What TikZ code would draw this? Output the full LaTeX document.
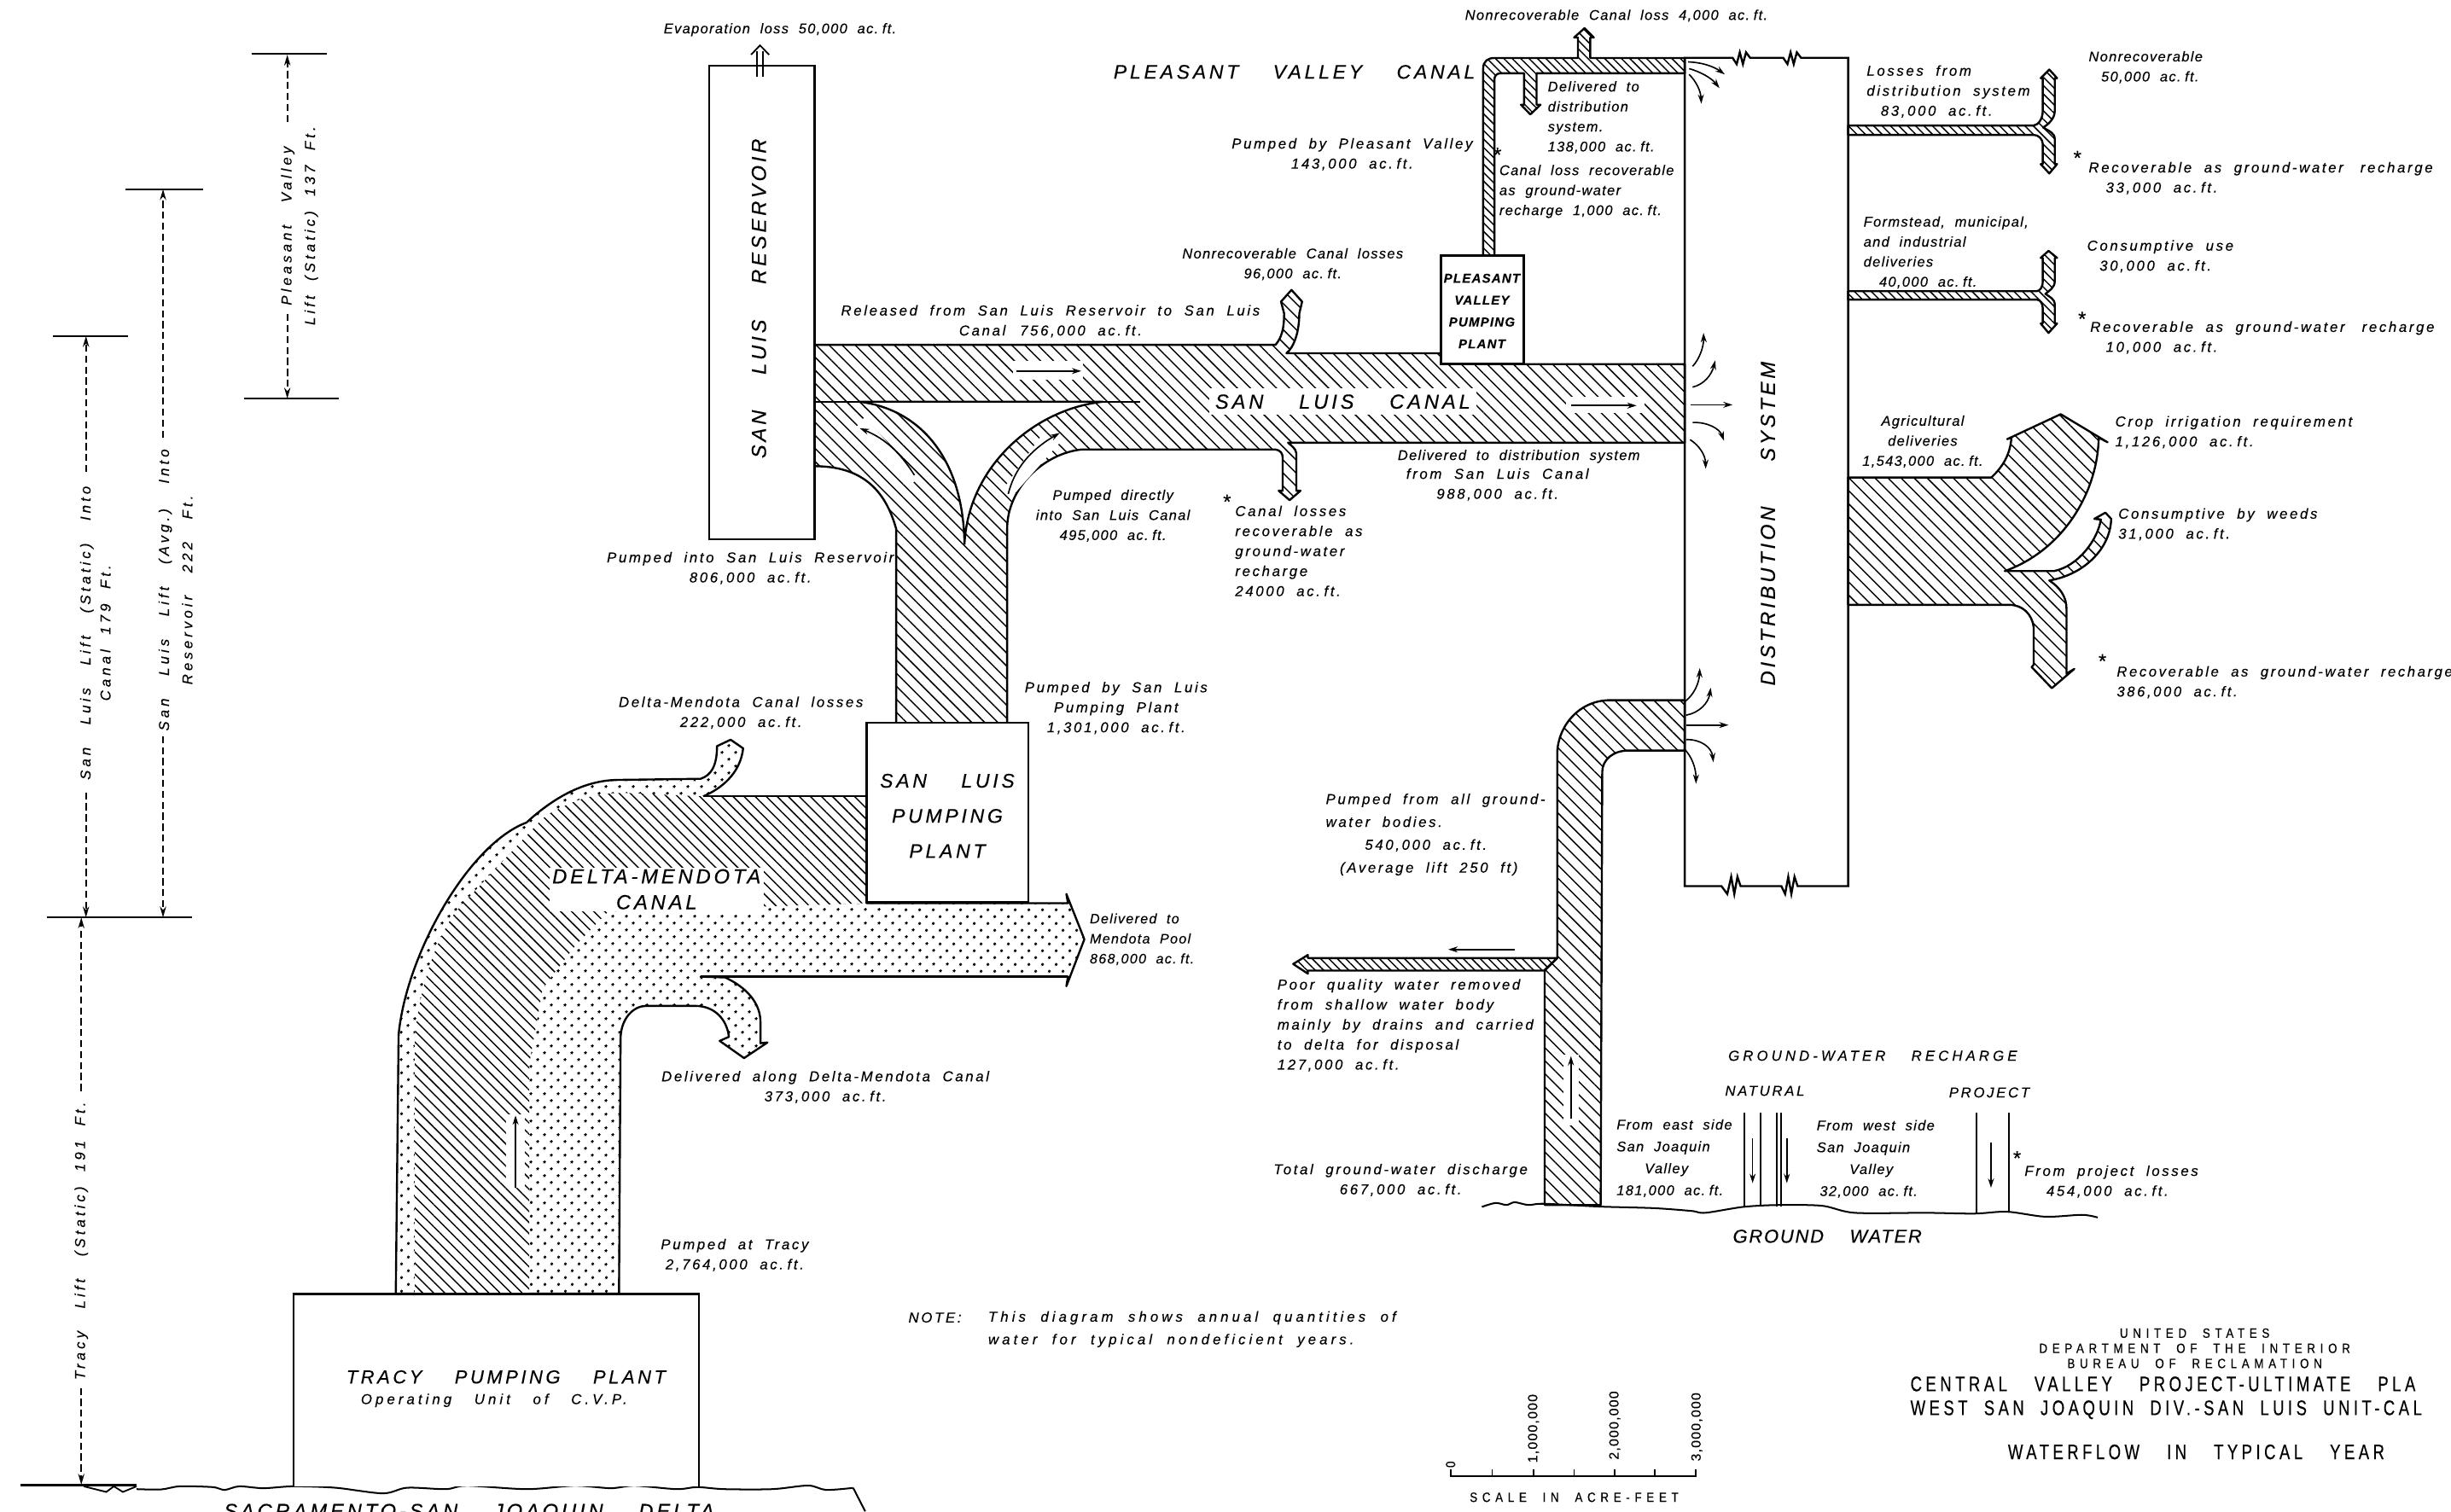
\documentclass[tikz,border=0pt]{standalone}
\usepackage{fontspec}
\usetikzlibrary{patterns.meta,arrows.meta}
\setmainfont{Liberation Sans}[LetterSpace=15.5,WordSpace=2,FakeBold=.25]
\newfontfamily\capsfont{Liberation Sans}[LetterSpace=16,WordSpace=4,FakeBold=.3]
\newfontfamily\midfont{Liberation Sans}[LetterSpace=8,WordSpace=2,FakeBold=.25]
\newfontfamily\widefont{Liberation Sans}[LetterSpace=24,WordSpace=2,FakeBold=.25]
\newfontfamily\ttlfont{Liberation Sans}[LetterSpace=18,WordSpace=2,FakeStretch=.75,FakeBold=.3]
\newfontfamily\ttlsfont{Liberation Sans}[LetterSpace=36,WordSpace=2,FakeStretch=.85,FakeBold=.3]
\newcommand{\af}{ac.\hspace{2.5pt}ft.}
\newcommand{\ws}{\hspace{5pt} }
\newcommand{\wt}{\hspace{7pt} }
\tikzset{
 x=1pt,y=-1pt,
 lab/.style={font=\fontsize{9.2}{12.8}\selectfont\itshape,inner sep=0pt},
 L/.style={lab,align=left,anchor=west},
 C/.style={lab,align=center,anchor=center},
 midf/.style={font=\fontsize{9}{12.8}\midfont\itshape},
 tig/.style={font=\fontsize{8.8}{12.8}\midfont\itshape},
 widf/.style={font=\fontsize{9.2}{14.5}\widefont\itshape},
 dimf/.style={font=\fontsize{9.2}{15}\widefont\itshape},
 star/.style={inner sep=0pt,font=\fontsize{13}{13}\selectfont},
 big/.style={inner sep=0pt,align=center,font=\fontsize{13}{16.5}\capsfont\itshape},
 med/.style={inner sep=0pt,align=center,font=\fontsize{8.2}{14}\midfont\itshape\bfseries},
 ttl/.style={inner sep=0pt,anchor=west,font=\fontsize{13.5}{14}\ttlfont},
 ttls/.style={inner sep=0pt,font=\fontsize{8.6}{9.7}\ttlsfont,align=center},
 outl/.style={draw=black,line width=1.3pt,line join=round},
 boxx/.style={draw=black,fill=white,line width=1.3pt},
 hat/.style={outl,pattern={Lines[angle=-45,distance=5.9pt,line width=.8pt]}},
 hatfine/.style={outl,pattern={Lines[angle=-45,distance=3.8pt,line width=.8pt]}},
 dotf/.style={outl,pattern={Dots[radius=.95pt,distance=6.4pt,angle=45]}},
 core/.style={preaction={fill=white},pattern={Lines[angle=-45,distance=5pt,line width=.8pt]}},
 fl/.style={line width=.9pt,-{Stealth[length=6pt,width=3.8pt]}},
 dimd/.style={line width=.95pt,dash pattern=on 4.5pt off 2.5pt,-{Stealth[length=7pt,width=4pt]}},
 tick/.style={line width=1pt},
 gap/.style={fill=white,draw=none},
}
\begin{document}
\begin{tikzpicture}
\useasboundingbox (0,0) rectangle (1568,967);
% ---- left dimensions
\draw[tick] (161,34.5)--(209,34.5) (156,255)--(217,255) (80,121)--(130,121) (34,215)--(82,215) (30,587)--(123,587);
\coordinate (pvt) at (183.8,35);\coordinate (pvb) at (183.8,255);
\coordinate (avt) at (104.3,121);\coordinate (avb) at (104.3,587);
\coordinate (stt) at (55,215);\coordinate (stb) at (55,587);
\coordinate (trt) at (52,587);\coordinate (trb) at (52,950);
\draw[dimd] (183.8,78)--(pvt);\draw[dimd] (183.8,201)--(pvb);
\draw[dimd] (104.3,280)--(avt);\draw[dimd] (104.3,471)--(avb);
\draw[dimd] (55,302)--(stt);\draw[dimd] (55,507)--(stb);
\draw[dimd] (52,698)--(trt);\draw[dimd] (52,888)--(trb);
\node[C,dimf,rotate=90] (tpv) at (191.6,144.5) {Pleasant\ws Valley\\Lift (Static) 137 Ft.};
\node[C,dimf,rotate=90] (tav) at (112.3,377.5) {San\ws Luis\ws Lift\ws (Avg.)\ws Into\\Reservoir\ws 222\ws Ft.};
\node[C,font=\fontsize{9.2}{12.8}\widefont\itshape,rotate=90] (tst) at (61,405) {San\ws Luis\ws Lift\ws (Static)\ws Into\\Canal 179 Ft.};
\node[C,dimf,rotate=90] (ttr) at (52,794) {Tracy\ws Lift\ws (Static) 191 Ft.};
% ---- ground lines
\draw[line width=1.5pt] (13,950.4)--(87.4,950.4);
\draw[line width=1pt] (53.6,951)--(68,954.6)--(72.8,951)--(78.6,954.6)--(87.4,951);
\draw[line width=1.1pt] plot[smooth,tension=.5] coordinates {(87.4,952.8)(103,953)(115,951)(136,951.5)(143.7,953.3)(153,951)(168.5,952.2)(187.7,951)(214.5,951.9)(245,955.5)(260.4,951.9)(285.3,952.8)(298.7,950.6)(337,952.8)(367.7,950.6)(390.7,952.2)(406,950.6)(432.8,952.8)(446,951.5)(463.4,952.8)(494,952.8)(517,950.5)(528.5,953.3)(545.8,952)};
\draw[line width=1.1pt] (545.8,952)--(553.5,967);
\draw[line width=1.1pt] plot[smooth,tension=.5] coordinates {(948,772.2)(956.8,769.7)(963.8,771)(969,769.2)(977.7,771)(988,770.2)(1023,772)(1057.8,773)(1082,774.8)(1090.9,776)(1115.3,772.2)(1138,771)(1165.7,771.5)(1186.6,776)(1232,776)(1263,776.5)(1284,775.3)(1308.5,778.5)(1332,777.3)(1342,779)};
% ---- San Luis reservoir + evaporation
\draw[boxx] (453.8,42) rectangle (521.2,345);
\node[big,rotate=90] (tres) at (485.5,191) {SAN LUIS RESERVOIR};
\draw[line width=1pt] (484.1,49)--(484.1,33) (488.3,49)--(488.3,33);
\draw[line width=1pt] (480.5,35)--(486.2,29)--(492,35);
% ---- San Luis canal with stem and branches
\draw[hat] (521.2,220.6)--(816,220.6) .. controls (820,216) and (821.5,210) .. (821.5,200.6)
  --(819.5,193)--(826.2,185.5)--(833,193)--(831.2,200.6) .. controls (831.2,212) and (828,222) .. (823,226)
  --(922,226)--(922,233)--(1077.8,233)--(1077.8,283.3)--(824,283.3)
  .. controls (826,285) and (829,287) .. (829.3,290)--(829.3,314)--(832,314)--(825,320)--(818,314)--(820.6,314)--(820.6,293)
  .. controls (820.6,290) and (819,288) .. (816,287.6)
  --(692,287.6) .. controls (668,290) and (644.3,312) .. (644.3,338.4)--(644.3,463)--(573.3,463)--(573.3,338.4)
  .. controls (566,312) and (550,298.3) .. (521.2,298.3)--cycle;
% white wedge between the two branches
\draw[boxx] (549.6,257) .. controls (590,262) and (616.5,295) .. (617,348.5) .. controls (619,300) and (660,262) .. (705.7,257)--cycle;
\draw[line width=1.3pt] (521.2,257)--(729.3,257);
\fill[gap] (648,231) rectangle (693,243);
\draw[fl] (650,237.4)--(691.7,237.4);
\node[big,fill=white,inner xsep=4pt,inner ysep=4pt] (tslc) at (859,257) {SAN LUIS CANAL};
\fill[gap] (1002,254) rectangle (1052,264);
\draw[fl] (1005,259.5)--(1047,259.5);
\fill[gap] (548,273) -- (553,267) -- (588,305) -- (582,311) -- cycle;
\draw[fl] (585,304) .. controls (576,290) and (567,281) .. (550,274);
\fill[gap] (648,317) -- (641,314) -- (666,279) -- (680,281) -- cycle;
\draw[fl] (645,316) .. controls (649,300) and (659,288) .. (678,277);
% ---- Pleasant Valley canal
\draw[hatfine] (948.8,163.5)--(948.8,44) .. controls (948.8,39) and (952,37.1) .. (956,37.1)
  --(1009.5,37.1)--(1009.5,24)--(1007,24)--(1013.7,18)--(1019.6,24)--(1017.3,24)--(1017.3,37.1)--(1077.8,37.1)--(1077.8,46.9)
  --(983,46.9)--(983,67)--(985.5,67)--(979,73.2)--(973,67)--(975,67)--(975,46.9)--(960,46.9)
  .. controls (957.5,46.9) and (956,48.5) .. (956,51)--(956,163.5)--cycle;
\draw[boxx] (921.8,163.5) rectangle (974.7,232.8);
\node[med] (tpvp) at (948,199) {PLEASANT\\VALLEY\\PUMPING\\PLANT};
% ---- Distribution box
\draw[line width=1.3pt] (1077.8,37)--(1108.4,37)--(1111,41)--(1113,33.5)--(1115,41)--(1117,33.5)--(1119.6,37)--(1140.8,37)--(1143.5,41)--(1145.5,33.5)--(1147.5,41)--(1149.5,33.5)--(1152.2,37)--(1182.3,37)--(1182.3,567)--(1150,567)--(1148,561)--(1146,572)--(1144,561)--(1142,572)--(1139.6,567)--(1113.5,567)--(1111.5,561)--(1109.5,572)--(1107.5,561)--(1105,572)--(1101.3,567)--(1077.8,567)--cycle;
\node[big,rotate=90] (tdis) at (1131,335) {DISTRIBUTION\hspace{6pt} SYSTEM};
% ---- radiating arrows
\draw[fl] (1080,39.6) .. controls (1090,40) and (1097,43) .. (1103.4,47.6);
\draw[fl] (1080.6,43.9) .. controls (1088,46) and (1095,50) .. (1100,56.4);
\draw[fl] (1080.6,47.6) .. controls (1085,52) and (1088,58) .. (1088.4,66.4);
\draw[fl] (1082.8,234.4) .. controls (1087,230) and (1090,222) .. (1089.8,213);
\draw[fl] (1082.8,247.7) .. controls (1090,246) and (1095,240) .. (1097.3,230.6);
\draw[fl] (1081.4,259)--(1108.4,259);
\draw[fl] (1082.8,270.3) .. controls (1092,270) and (1100,274) .. (1102.9,282);
\draw[fl] (1081.2,281.3) .. controls (1087,285) and (1091,291) .. (1091.2,300);
\draw[fl] (1078,448.8) .. controls (1083,445) and (1087,438) .. (1087.4,427.5);
\draw[fl] (1078.7,457.6) .. controls (1087,456) and (1093,450) .. (1094.4,440);
\draw[fl] (1078.7,463.9)--(1105.8,463.9);
\draw[fl] (1078.7,473.2) .. controls (1088,473) and (1095,478) .. (1096.1,487.7);
\draw[fl] (1078,479.7) .. controls (1082,484) and (1085,491) .. (1085,501.5);
% ---- deliveries on the right
\draw[hatfine] (1182.3,80.3)--(1301,80.3) .. controls (1304,80) and (1306.8,76) .. (1306.8,71)--(1306.8,50)--(1305.5,50)--(1311,44.5)--(1316,50)--(1314.5,50)--(1314.5,71)
  .. controls (1314.5,76) and (1310,80) .. (1307,81.5) .. controls (1311,84) and (1314.5,85) .. (1314.5,89)--(1314.5,105)--(1316,105)--(1311,111)--(1305.5,105)--(1306.8,105)--(1306.8,92)
  .. controls (1306.8,89) and (1304,86.3) .. (1301,86.3)--(1182.3,86.3)--cycle;
\draw[hatfine] (1182.3,186.3)--(1303,186.3) .. controls (1305,186) and (1306.8,184) .. (1306.8,180)--(1306.8,165)--(1305.5,165)--(1310.5,160.5)--(1316,165)--(1314.5,165)--(1314.5,180)
  .. controls (1314.5,184) and (1311,186) .. (1308.5,188) .. controls (1311,190) and (1314.5,191) .. (1314.5,195)--(1314.5,207)--(1316,207)--(1310.5,213)--(1305.5,207)--(1306.8,207)--(1306.8,197)
  .. controls (1306.8,194) and (1305,191.7) .. (1303,191.7)--(1182.3,191.7)--cycle;
\draw[hat] (1182.3,305.5)--(1273.9,305.5) .. controls (1282,298) and (1286,290) .. (1286.8,280)--(1284,281)--(1318.3,265)--(1348.3,283)--(1342.6,280)
  .. controls (1342,315) and (1320,352) .. (1282.5,365.4)--(1314,365.4) .. controls (1330,362) and (1342,345) .. (1344,332.4)--(1339.8,332)--(1346.9,328)--(1350.6,332)
  .. controls (1350,352) and (1332,368) .. (1311,371.4) .. controls (1318,376) and (1322,382) .. (1322,389.4)--(1322,431)--(1327,428)--(1312.6,440.3)--(1299.7,426.8)--(1301,425.3)--(1301,401.3)
  .. controls (1300,393) and (1294,387) .. (1285.4,387)--(1182.3,387)--cycle;
% ---- ground water
\draw[hat] (1024,771)--(1025,494) .. controls (1025,486) and (1032,480.2) .. (1042,480.2)--(1077.8,480.2)--(1077.8,448)--(1030,448)
  .. controls (1010,448) and (996.2,465) .. (996.2,482.7)--(996.2,613)--(988.2,620.6)--(988.2,771)--cycle;
\draw[hatfine] (996.2,613)--(836.7,613)--(836.7,611)--(827.3,616.8)--(836.7,623)--(836.7,621)--(988.2,621)--cycle;
\fill[gap] (1000,675) rectangle (1010,720);
\draw[fl] (1005,716)--(1005,675.7);
\draw[fl] (969,607.5)--(926.5,607.5);
% ---- recharge
\draw[line width=1.1pt] (1116,712)--(1116,772) (1126.4,712)--(1126.4,772) (1136.8,712)--(1136.8,772) (1139.6,712)--(1139.6,772) (1264.3,712)--(1264.3,776) (1285.2,712)--(1285.2,776);
\draw[fl] (1121.2,728.4)--(1121.2,757);
\draw[fl] (1143.1,728.4)--(1143.1,757);
\draw[fl] (1273.7,731)--(1273.7,760);
% ---- Delta-Mendota canal
\draw[dotf] (253.2,827.7)--(255,662) .. controls (260,610) and (300,540) .. (336.8,526.3) .. controls (360,505) and (380,499) .. (396,499)
  --(448.2,498.3) .. controls (455,496) and (458.7,490) .. (458.7,477.4)--(467.4,473.3)--(475.4,478.8) .. controls (474,492) and (465,503) .. (450,509.5)
  --(554.4,509.5)--(554.4,577.9)--(683.2,577.9)--(682.2,572)--(693.7,601)--(682.2,631)--(683.2,624.9)--(448.2,624.9)--(463.9,625.4)
  .. controls (478,632) and (486.5,642) .. (486.5,654)--(486.5,667.5)--(491,667)--(476,677)--(460.4,666)--(466.3,663.4)
  .. controls (465,652) and (457,643.6) .. (444.7,643.6)--(413.4,643.6) .. controls (405,643.6) and (397,652) .. (397,664.8)--(396,827.7)--cycle;
\path[core] (265.4,827.7)--(265.4,662) .. controls (270,625) and (280,600) .. (291.5,583.3)--(347.2,523.6) .. controls (365,512) and (380,507.3) .. (399.5,507.3)
  --(448.2,509.5)--(554.4,509.5)--(554.4,577.9)--(389,583.3)--(368.1,605)--(347.2,632.2)--(338.5,681)--(338.5,827.7)--cycle;
\draw[line width=1.3pt] (450,509.5)--(554.4,509.5) (448.2,624.9)--(683.2,624.9);
\fill[gap] (324,713) rectangle (336,760);
\draw[fl] (329.8,760)--(329.8,713.7);
\node[big,fill=white,inner xsep=2pt,inner ysep=1pt] (tdmc) at (420,569) {DELTA-MENDOTA\\CANAL};
\draw[boxx] (554.4,462.5) rectangle (657.8,577.4);
\node[font=\fontsize{12.6}{22.5}\capsfont\itshape,inner sep=0pt,align=center] (tslp) at (606,522) {SAN LUIS\\PUMPING\\PLANT};
% ---- Tracy
\draw[boxx] (187.7,951)--(187.7,828)--(447.3,828)--(447.3,951);
\node[big,font=\fontsize{12}{16}\capsfont\itshape] (ttpp) at (323.7,881) {TRACY PUMPING PLANT};
\node[C,widf] (topu) at (316,896) {Operating\ws Unit\ws of\ws C.V.P.};
\node[big] (tdelta) at (300,968) {SACRAMENTO-SAN JOAQUIN DELTA};
% ---- labels
\node[C,midf] (a1) at (499,19) {Evaporation loss 50,000 \af};
\node[big,font=\fontsize{12.6}{16}\capsfont\itshape] (a2) at (828,46) {PLEASANT VALLEY CANAL};
\node[C,midf] (a3) at (1034,10) {Nonrecoverable Canal loss 4,000 \af};
\node[L,midf] (a4) at (990,75) {Delivered to\\distribution\\system.\\138,000 \af};
\node[star] (a5s) at (958,99) {*};
\node[L,midf] (a5) at (959,122.5) {Canal loss recoverable\\as ground-water\\recharge 1,000 \af};
\node[C] (a6) at (865,98.7) {Pumped by Pleasant Valley\\143,000 \af};
\node[C,midf] (a7) at (827,169) {Nonrecoverable Canal losses\\96,000 \af};
\node[C] (a8) at (672,205.5) {Released from San Luis Reservoir to San Luis\\Canal\quad 756,000 \af};
\node[L,midf] (a11a) at (894,292) {Delivered to distribution system};
\node[C] (a11b) at (958,310) {from San Luis Canal\\988,000 \af};
\node[C,midf] (a12) at (712,330) {Pumped directly\\into San Luis Canal\\495,000 \af};
\node[star] (a13s) at (785,321) {*};
\node[L] (a13) at (790,352.5) {Canal losses\\recoverable as\\ground-water\\recharge\\24000 \af};
\node[C] (a14) at (480,363.5) {Pumped into San Luis Reservoir\\806,000 \af};
\node[C] (a16) at (714,453) {Pumped by San Luis\\Pumping Plant\\1,301,000 \af};
\node[C] (a17) at (474,456) {Delta-Mendota Canal losses\\222,000 \af};
\node[L,tig] (a20) at (697,601) {Delivered to\\Mendota Pool\\868,000 \af};
\node[C] (a21) at (528,695.5) {Delivered along Delta-Mendota Canal\\373,000 \af};
\node[C] (a22) at (470,803) {Pumped at Tracy\\2,764,000 \af};
\node[L] (a24a) at (581,843) {NOTE:};
\node[L,widf] (a24b) at (632,850.5) {This diagram shows annual quantities of\\water for typical nondeficient years.};
\node[L] (b1) at (1194,58.5) {Losses from\\distribution system\\\hspace*{9pt}83,000 \af};
\node[L,midf] (b2) at (1336,43) {Nonrecoverable\\\hspace*{8pt}50,000 \af};
\node[star] (b3s) at (1329,101) {*};
\node[L] (b3) at (1336,114) {Recoverable as ground-water\hspace{3pt} recharge\\\hspace*{11pt}33,000 \af};
\node[L,midf] (b4) at (1192,161.5) {Formstead, municipal,\\and industrial\\deliveries\\\hspace*{10pt}40,000 \af};
\node[L] (b5) at (1335,164) {Consumptive use\\\hspace*{8pt}30,000 \af};
\node[star] (b6s) at (1332,204) {*};
\node[L] (b6) at (1337,216) {Recoverable as ground-water\hspace{3pt} recharge\\\hspace*{10pt}10,000 \af};
\node[C,midf] (b7) at (1230,282.5) {Agricultural\\deliveries\\1,543,000 \af};
\node[L] (b8) at (1353,276.5) {Crop irrigation requirement\\1,126,000 \af};
\node[L] (b9) at (1355,335.5) {Consumptive by weeds\\31,000 \af};
\node[star] (b10s) at (1345,423) {*};
\node[L,font=\fontsize{9.1}{12.8}\selectfont\itshape] (b10) at (1354,436.5) {Recoverable as ground-water recharge\\386,000 \af};
\node[L,font=\fontsize{9.2}{14.6}\selectfont\itshape] (c1) at (848,534) {Pumped from all ground-\\water bodies.\\\hspace*{25pt}540,000 \af\\\hspace*{9pt}(Average lift 250 ft)};
\node[L] (c2) at (817,656) {Poor quality water removed\\from shallow water body\\mainly by drains and carried\\to delta for disposal\\127,000 \af};
\node[C] (c3) at (896,755) {Total ground-water discharge\\667,000 \af};
\node[C,widf] (c4) at (1198,675.5) {GROUND-WATER\wt RECHARGE};
\node[C] (c5) at (1129,698) {NATURAL};
\node[C] (c6) at (1272.6,699) {PROJECT};
\node[L,font=\fontsize{9}{14}\midfont\itshape] (c7) at (1034,741) {From east side\\San Joaquin\\\hspace*{18pt}Valley\\181,000 \af};
\node[L,font=\fontsize{9}{14}\midfont\itshape] (c8) at (1162,741.5) {From west side\\San Joaquin\\\hspace*{21pt}Valley\\\hspace*{2pt}32,000 \af};
\node[star] (c9s) at (1290.4,741) {*};
\node[L] (c9) at (1295,756) {From project losses\\\hspace*{14pt}454,000 \af};
\node[big,font=\fontsize{12}{16}\midfont\itshape] (c10) at (1169,791) {GROUND\hspace{8pt} WATER};
% ---- scale
\draw[line width=1.3pt] (928,944.6)--(1085,944.6);
\foreach \tx in {928,954.5,981,1007,1033,1058.6,1084.7} \draw[line width=.8pt] (\tx,940)--(\tx,945);
\node[ttls,rotate=90] (s0) at (928,937) {0};
\node[ttls,rotate=90,font=\fontsize{8.6}{9.7}\midfont] (s1) at (981,914) {1,000,000};
\node[ttls,rotate=90,font=\fontsize{8.6}{9.7}\midfont] (s2) at (1033,912) {2,000,000};
\node[ttls,rotate=90,font=\fontsize{8.6}{9.7}\midfont] (s3) at (1085.5,913) {3,000,000};
\node[ttls] (s4) at (1007,958) {SCALE IN ACRE-FEET};
% ---- title
\node[ttls] (h1) at (1404,862.7) {UNITED STATES\\DEPARTMENT OF THE INTERIOR\\BUREAU OF RECLAMATION};
\node[ttl] (h2) at (1222,885.5) {CENTRAL\wt VALLEY\wt PROJECT-ULTIMATE\wt PLA};
\node[ttl] (h3) at (1222,902) {WEST SAN JOAQUIN DIV.-SAN LUIS UNIT-CAL};
\node[ttl,anchor=center] (h4) at (1405,929) {WATERFLOW\wt IN\wt TYPICAL\wt YEAR};
\end{tikzpicture}
\end{document}
